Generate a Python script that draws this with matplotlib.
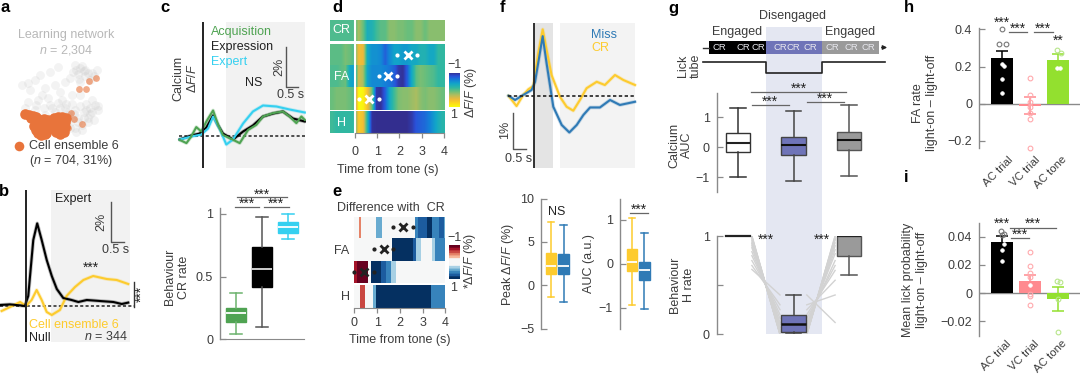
import matplotlib
matplotlib.use('Agg')
import matplotlib.pyplot as plt
from matplotlib.colors import LinearSegmentedColormap, ListedColormap

plt.rcParams['font.family'] = ['Liberation Sans', 'DejaVu Sans']
plt.rcParams['font.size'] = 9
plt.rcParams['mathtext.fontset'] = 'custom'
plt.rcParams['mathtext.rm'] = 'Liberation Sans'
plt.rcParams['mathtext.it'] = 'Liberation Sans:italic'
plt.rcParams['mathtext.bf'] = 'Liberation Sans:bold'

W, H = 1080, 376
TXT = '#3c3c3c'
AXC = '#8a8a8a'
ORANGE = '#e8743b'
GREEN = '#4fa352'
CYAN = '#35d0f0'
YELLOW = '#fdcb2e'
BLUE = '#2f7ab5'
PURPLE = '#6f74b8'
GREY = '#9a9a9a'
PINK = '#ff8a8f'
LIME = '#93e02f'

# a: embedding
grey_x = [75, 80, 85, 78, 85, 92, 97, 73, 90, 80, 70, 65, 58, 50, 40, 35, 28, 22, 30, 45, 55, 60, 48, 38, 28, 25, 35, 50, 62, 72,
          80, 95, 98, 90, 84, 75, 65, 55, 45, 88, 78, 70, 82, 75, 92, 68, 58, 42, 86, 72,
          76, 82, 88, 79, 84, 94, 98, 92, 86, 80, 74, 68, 72, 78, 84, 90, 60, 52, 66, 44, 36, 70, 76, 82, 88, 94]
grey_y = [65, 68, 70, 74, 76, 73, 70, 72, 80, 82, 78, 82, 67, 72, 75, 80, 83, 85, 90, 88, 85, 92, 98, 100, 102, 108, 110, 105, 100, 95,
          95, 105, 110, 108, 112, 110, 108, 112, 115, 118, 118, 122, 125, 128, 100, 115, 103, 95, 104, 104,
          70, 66, 73, 79, 71, 76, 106, 112, 110, 106, 114, 112, 118, 122, 118, 114, 108, 108, 104, 108, 105, 128, 132, 130, 122, 120]
orange_x = [25, 29, 33, 36, 31, 36, 40, 44, 48, 34, 38, 42, 46, 50, 36, 40, 44, 48, 38, 42, 46, 41, 45,
            54, 58, 62, 66, 53, 57, 61, 65, 53, 57, 61, 65, 56, 60, 64, 60]
orange_y = [114, 115, 116, 117, 118, 122, 120, 119, 120, 126, 125, 124, 124, 125, 130, 129, 129, 129, 133, 133, 133, 135, 134,
            118, 117, 117, 118, 123, 122, 122, 122, 128, 127, 127, 127, 132, 132, 132, 134]
orange_far_x = [89, 96, 86, 79, 71, 74, 68, 82]
orange_far_y = [81, 78, 89, 89, 113, 119, 128, 124]

# b: traces
b_null_t = [-0.93, -0.57, -0.21, -0.04, 0.08, 0.26, 0.4, 0.56, 0.74, 0.92, 1.1, 1.33, 1.63, 1.87, 2.17, 2.64, 3.12, 3.42, 3.65]
b_null_v = [0.05, 0.08, 0.03, 0.0, 0.5, 3.3, 4.13, 3.3, 2.3, 1.5, 0.85, 0.4, 0.3, 0.2, 0.3, 0.25, 0.2, 0.1, 0.17]
b_ens_t = [-0.87, -0.57, -0.21, 0.0, 0.2, 0.38, 0.56, 0.74, 0.92, 1.21, 1.45, 1.75, 2.05, 2.4, 2.88, 3.24, 3.65]
b_ens_v = [-0.25, -0.05, 0.2, 0.0, 0.3, 0.8, 0.3, -0.3, -0.45, -0.2, 0.5, 0.95, 1.3, 1.5, 1.35, 1.3, 1.1]

# c: traces
acq_t = [-0.97, -0.69, -0.49, -0.28, -0.07, 0.14, 0.42, 0.63, 0.83, 1.11, 1.53, 1.88, 2.22, 2.5, 2.92, 3.33, 3.61, 3.89, 4.1, 4.24]
acq_v = [-0.22, -0.38, -0.05, 0.42, 0.2, 0.7, 1.25, 0.53, 0.03, -0.13, -0.38, 0.28, 0.53, 0.95, 1.12, 1.2, 0.95, 0.62, 0.95, 0.78]
exprs_t = [-0.97, -0.49, -0.14, 0.14, 0.42, 0.63, 0.83, 1.25, 1.67, 2.08, 2.5, 2.92, 3.33, 3.75, 4.24]
exprs_v = [-0.2, 0.0, 0.1, 0.4, 1.0, 0.5, 0.1, -0.2, 0.2, 0.5, 0.95, 1.1, 1.2, 0.85, 0.7]
expert_t = [-0.97, -0.49, -0.07, 0.21, 0.42, 0.69, 0.97, 1.25, 1.67, 2.08, 2.5, 3.06, 3.61, 4.24]
expert_v = [-0.2, -0.05, 0.05, 0.35, 0.95, 0.35, -0.45, -0.2, 0.6, 1.2, 1.5, 1.45, 1.3, 1.15]

# c: CR rate boxes
cr_rate_ticks = [0, 0.5, 1]
cr_green = dict(whislo=0.04, q1=0.14, med=0.21, q3=0.25, whishi=0.37, fliers=[])
cr_black = dict(whislo=0.10, q1=0.42, med=0.56, q3=0.74, whishi=0.98, fliers=[])
cr_cyan = dict(whislo=0.80, q1=0.85, med=0.90, q3=0.94, whishi=1.0, fliers=[])

# d: heat rows, one value per 0.2 s from -1 to 4 s
d_t = [-1.1, 4.0]
d_cr = [0, 0, 0, 0, 0, 0, .3, .1, -.25, -.2, -.05, .05, .05, .2, .2, .15, .15, .1, .1, .2, .2, .1, .2, .2, .2, .2]
d_fa1 = [.05, .05, .05, .15, .1, 0, .6, .55, -.3, -.45, -.45, -.5, -.7, -.5, -.35, -.35, -.4, -.4, -.3, -.3, -.2, -.2, -.3, -.3, -.1, -.1]
d_fa2 = [0, 0, .05, .1, -.3, -.4, .45, .3, -.35, -.5, -.5, -.5, -.55, -.6, -.7, -.9, -.95, -.7, -.3, .05, .15, .1, .05, 0, -.1, -.1]
d_fa3 = [.1, .15, .15, .15, .1, 0, 1, .95, .6, .1, -.9, -.95, -.7, -.3, -.05, .15, .2, .2, .25, .3, .2, .15, .2, .2, .15, .1]
d_h = [-.05, -.1, -.1, -.1, -.1, -.1, .7, .6, -.2, -.95, -.97, -.97, -.97, -.97, -.97, -.97, -.97, -.97, -.9, -.75, -.7, -.65, -.55, -.4, -.25, -.15]
d_cross_t = [2.36, 1.5, 0.63]
d_dot_lo = [1.9, 1.09, 0.2]
d_dot_hi = [2.78, 1.9, 1.09]

# e: difference rows, bin edges and values
e_fa1_edges = [0, .2, .3, .5, .7, .95, 1.2, 1.55, 1.65, 2.5, 2.65, 2.8, 3.0, 3.2, 3.4, 3.7, 3.95, 4.0]
e_fa1_vals = [.02, -.45, 0, .2, 0, .45, .05, .2, .05, .2, .6, .7, .8, 1, .6, .7, .4]
e_fa2_edges = [0, .9, 1.15, 1.65, 2.56, 2.7, 2.95, 3.05, 3.4, 3.55, 3.7, 4.0]
e_fa2_vals = [0, .08, .15, 1, .7, .3, .1, .04, .3, .6, .65]
e_fa3_edges = [0, .12, .58, .75, 1.15, 1.4, 1.6, 1.85, 3.6, 3.9, 4.0]
e_fa3_vals = [-.7, -.9, 0, 1, .7, .6, .3, 0, .2, .1]
e_h_edges = [0, .15, .25, .45, .6, .8, .95, 3.35, 4.0]
e_h_vals = [-.15, 0, -.6, 0, .2, .5, 1, .65]
e_cross_t = [2.13, 1.28, 0.42]
e_dot_lo = [1.7, 0.86, 0.0]
e_dot_hi = [2.56, 1.7, 0.86]
time_ticks = [0, 1, 2, 3, 4]

# f: traces
miss_t = [-1.05, -.78, -.45, -.11, .03, .34, .5, .77, 1.11, 1.42, 1.72, 1.99, 2.26, 2.66, 3.07, 3.47, 3.81, 4.08]
miss_v = [0, -.12, .02, .16, .39, 1.67, .9, -.31, -.82, -1.03, -.82, -.54, -.33, -.33, -.12, -.26, -.21, -.17]
fcr_t = [-1.05, -.72, -.45, -.24, -.04, .16, .34, .5, .7, 1.04, 1.31, 1.58, 1.85, 2.12, 2.53, 2.86, 3.27, 3.61, 4.08]
fcr_v = [0, -.29, .02, .18, .27, 1.19, 1.86, 1.28, .58, -.03, -.31, -.42, -.12, .21, .39, .3, .58, .44, .3]

# f: boxes
peak_ticks = [-5, 0, 5, 10]
peak_y = dict(whislo=-1.4, q1=1.27, med=2.2, q3=3.7, whishi=7.35, fliers=[])
peak_b = dict(whislo=-1.9, q1=1.27, med=2.2, q3=3.6, whishi=7.0, fliers=[])
auc_ticks = [-1, 0, 1]
auc_y = dict(whislo=-.94, q1=-.17, med=.05, q3=.34, whishi=1.04, fliers=[])
auc_b = dict(whislo=-1.03, q1=-.37, med=-.14, q3=.05, whishi=.7, fliers=[])

# g: boxes
g_states = ['CR', 'CR', 'CR', 'CR', 'CR', 'CR', 'CR', 'CR', 'CR']
g_auc_ticks = [-1, 0, 1]
g_auc_en1 = dict(whislo=-1.01, q1=-.16, med=.12, q3=.46, whishi=1.29, fliers=[])
g_auc_dis = dict(whislo=-1.13, q1=-.27, med=.07, q3=.34, whishi=1.21, fliers=[])
g_auc_en2 = dict(whislo=-.96, q1=-.1, med=.22, q3=.51, whishi=1.4, fliers=[])
g_h_dis = dict(whislo=0, q1=.02, med=.1, q3=.2, whishi=.4, fliers=[])
g_h_en2 = dict(whislo=.6, q1=.8, med=1, q3=1, whishi=1, fliers=[])
h_before = [1, 1, .99, .98, .97, .95, .93, .92, .9, .88, .84, .8, .75, .7, .66]
h_during = [0, 0, 0, 0, .02, .03, .05, .07, .1, .12, .16, .2, .25, .3, .4]
h_after = [1, 1, .98, .97, .96, .93, .9, .86, .82, .75, .7, .65, .55, .4, .12]

# h, i: bars
bar_names = ['AC trial', 'VC trial', 'AC tone']
fa_vals = [0.245, -0.01, 0.235]
fa_err = [0.04, 0.045, 0.03]
fa_pts_x = [[0, -.12, .12, 0, .05, 0, 0], [0, 0, 0, 0, 0, 0, 0], [-.03, .08, -.05, .07]]
fa_pts_y = [[.4, .32, .32, .215, .205, .133, .055], [.14, .047, .01, -.02, -.05, -.083, -.237], [.29, .27, .19, .19]]
lick_vals = [0.0362, 0.0085, -0.004]
lick_err = [0.004, 0.004, 0.0085]
lick_pts_x = [[-.05, .06, 0, .05, 0, 0], [0, 0, 0, 0, 0, 0, 0, 0], [-.05, .05, 0, 0]]
lick_pts_y = [[.044, .042, .041, .0345, .0305, .0225], [.029, .019, .014, .011, .0057, -.001, -.002, -.0085], [.0085, .0075, -.004, -.0275]]


def make_ax(x0, x1, y0, y1, z=2):
    ax = fig.add_axes([x0 / W, 1 - y1 / H, (x1 - x0) / W, (y1 - y0) / H], zorder=z)
    ax.patch.set_alpha(0)
    for s in ['top', 'right']:
        ax.spines[s].set_visible(False)
    return ax


def set_px(ax, x0, x1, y0, y1, xref, xval, xscale, yref, yval, yscale):
    # limits so that xval falls on pixel xref and yval on pixel yref
    ax.set_xlim(xval + (x0 - xref) / xscale, xval + (x1 - xref) / xscale)
    ax.set_ylim(yval + (yref - y1) / yscale, yval + (yref - y0) / yscale)


def trace_ax(x0, x1, y0, y1, t0, v0, xscale, yscale):
    ax = make_ax(x0, x1, y0, y1)
    set_px(ax, x0, x1, y0, y1, t0, 0, xscale, v0, 0, yscale)
    ax.axis('off')
    return ax


def trace(ax, t, v, c, lw=1.5, z=3):
    ax.plot(t, v, color=c, lw=lw + 1.2, alpha=.25, zorder=z, solid_capstyle='round')
    ax.plot(t, v, color=c, lw=lw, zorder=z + .1, solid_joinstyle='round')


def style_y(ax, ticks, labels=None):
    ax.set_yticks(ticks)
    if labels is not None:
        ax.set_yticklabels(labels)
    ax.tick_params(axis='y', direction='in', length=4, width=.9, color=AXC, labelcolor=TXT, labelsize=9, pad=5)
    ax.spines['left'].set_color(AXC)
    ax.spines['left'].set_linewidth(1)
    ax.set_xticks([])


def box(ax, pos, st, width, face, edge=None, med='white', wc=None, mlw=1.3, lw=1.0):
    edge = edge or face
    wc = wc or edge
    ax.bxp([st], positions=[pos], widths=width, patch_artist=True, showfliers=False, capwidths=width * .62,
           boxprops=dict(facecolor=face, edgecolor=edge, linewidth=lw),
           medianprops=dict(color=med, linewidth=mlw, solid_capstyle='butt'),
           whiskerprops=dict(color=wc, linewidth=1.1), capprops=dict(color=wc, linewidth=1.1), manage_ticks=False)


def stars(x, y, s='***', **kw):
    # asterisks sit high in the line box, nudge them down
    dx, dy = (1.5, 0) if kw.get('rotation') else (0, 2)
    over.text(x + dx, y + dy, s, ha='center', va='center', color='#222222', fontsize=10, **kw)


def bracket(x0, x1, y, c='#666666'):
    over.plot([x0, x1], [y, y], color=c, lw=.9)


def t(x, y, s, **kw):
    kw.setdefault('ha', 'center')
    kw.setdefault('va', 'center')
    kw.setdefault('color', TXT)
    over.text(x, y, s, **kw)


def scale_bar(x, y0, y1, x1):
    over.plot([x, x, x1], [y0, y1, y1], color='#555555', lw=1)


fig = plt.figure(figsize=(W / 100, H / 100), dpi=100)

under = fig.add_axes([0, 0, 1, 1], zorder=0)
under.set_xlim(0, W)
under.set_ylim(H, 0)
under.axis('off')
over = fig.add_axes([0, 0, 1, 1], zorder=6)
over.set_xlim(0, W)
over.set_ylim(H, 0)
over.axis('off')
over.patch.set_alpha(0)

for letter, lx, ly in [('a', 5, 8), ('b', 4, 191), ('c', 165, 8), ('d', 337, 8), ('e', 337, 191), ('f', 503, 8),
                       ('g', 673, 8), ('h', 909, 8), ('i', 906, 178)]:
    t(lx, ly, letter, fontsize=12, fontweight='bold', color='black')

# panel a
ax = make_ax(10, 110, 55, 145)
ax.set_xlim(10, 110)
ax.set_ylim(145, 55)
ax.axis('off')
ax.scatter(grey_x, grey_y, s=40, color='#c4c4c4', alpha=.2, linewidths=0)
ax.scatter(orange_far_x, orange_far_y, s=24, color=ORANGE, alpha=.6, linewidths=0)
ax.scatter(orange_x, orange_y, s=58, color=ORANGE, linewidths=0)
t(66, 35, 'Learning network', color='#b8b8b8')
t(66, 50, '$n$ = 2,304', color='#b8b8b8')
over.scatter([19], [146], s=48, color=ORANGE, linewidths=0)
t(29, 146, 'Cell ensemble 6', ha='left')
t(29, 161, '($n$ = 704, 31%)', ha='left')

# panel b trace
ax = trace_ax(0, 135, 190, 342, 26, 306, 28, 20)
ax.axvspan(.89, 3.71, color='#f2f2f2', lw=0, zorder=1)
ax.axhline(0, color='#222222', lw=1.1, ls=(0, (2, 1.5)), zorder=2)
ax.axvline(0, color='#222222', lw=1.4, zorder=5)
trace(ax, b_ens_t, b_ens_v, YELLOW)
trace(ax, b_null_t, b_null_v, 'black')
t(55, 199, 'Expert', ha='left', color='#222222')
scale_bar(110.5, 202, 242, 124)
t(101, 222, '2%', rotation=90)
t(116, 250, '0.5 s')
stars(91, 266)
over.plot([133.5, 133.5], [282, 306.5], color='#333333', lw=1)
stars(140, 294, rotation=90)
t(29, 325, 'Cell ensemble 6', ha='left', color=YELLOW)
t(29, 338, 'Null', ha='left', color='#222222')
t(128, 336, '$n$ = 344', ha='right')

# panel c trace
ax = trace_ax(175, 306, 22, 168, 203, 135.5, 24, 20)
ax.axvspan(.97, 4.24, color='#f2f2f2', lw=0, zorder=1)
ax.axhline(0, color='#222222', lw=1.1, ls=(0, (2, 1.5)), xmin=.03, xmax=.99, zorder=2)
ax.axvline(0, color='#222222', lw=1.4, zorder=5)
trace(ax, exprs_t, exprs_v, 'black')
trace(ax, expert_t, expert_v, CYAN)
trace(ax, acq_t, acq_v, GREEN)
t(211, 32, 'Acquisition', ha='left', color=GREEN)
t(211, 47, 'Expression', ha='left', color='#222222')
t(211, 62, 'Expert', ha='left', color=CYAN)
t(254, 83, 'NS', color='#222222')
scale_bar(285.7, 47, 87, 298)
t(279, 67, '2%', rotation=90)
t(291, 95, '0.5 s')
t(186, 78, 'Calcium\nΔ$F/F$', rotation=90, linespacing=1.15)

# panel c boxes
ax = make_ax(220, 304, 208, 339)
set_px(ax, 220, 304, 208, 339, 236, 0, 26, 339, 0, 125)
style_y(ax, cr_rate_ticks, ['0', '0.5', '1'])
ax.spines['bottom'].set_color(AXC)
box(ax, 0, cr_green, .8, GREEN, wc='#6cb36e')
box(ax, 1, cr_black, .8, 'black', med='#dddddd', wc='#555555')
box(ax, 2, cr_cyan, .8, CYAN, wc=CYAN)
t(177, 277, 'Behaviour\nCR rate', rotation=90, linespacing=1.15)
bracket(235, 259, 206.7)
bracket(264, 289, 206.7)
bracket(237, 287, 197)
stars(247, 202)
stars(276, 202)
stars(262, 192.5)

# panel d heat
parula = LinearSegmentedColormap.from_list('parula', ['#352a87', '#2a50d8', '#1480d8', '#12a6c8', '#2db7a4', '#6dbf7a',
                                                      '#b5bd5c', '#eeb93a', '#fdd81f', '#f9fb0e'])
ax = make_ax(330, 445, 20, 133)
d_rows = [d_cr, d_fa1, d_fa2, d_fa3, d_h]
d_bounds = [(20, 41), (44, 65.5), (65.5, 87), (87, 110), (112, 133)]
for row, (top, bot) in zip(d_rows, d_bounds):
    ax.imshow([row], extent=[d_t[0], d_t[1], bot, top], cmap=parula, vmin=-1, vmax=1, aspect='auto', interpolation='bilinear')
ax.set_xlim(-1.1, 4.03)
ax.set_ylim(133, 20)
ax.axvline(0, color='white', lw=1.5)
ax.plot(d_cross_t, [54.5, 76, 98.5], ls='', marker='x', ms=6, mew=2, color='white')
ax.plot(d_dot_lo + d_dot_hi, [54.5, 76, 98.5] * 2, ls='', marker='o', ms=2, color='white')
ax.spines['left'].set_visible(False)
ax.spines['bottom'].set_bounds(0, 4)
ax.spines['bottom'].set_color(AXC)
ax.set_yticks([])
ax.set_xticks(time_ticks)
ax.tick_params(axis='x', direction='out', length=3.5, width=.9, color=AXC, labelcolor=TXT, labelsize=9, pad=6)
t(341, 30, 'CR', color='white')
t(342, 77, 'FA', color='white')
t(341, 123, 'H', color='white')
t(388, 170, 'Time from tone (s)')
cax = make_ax(449, 460, 73, 107)
cax.imshow([[v / 50] for v in range(-50, 51)], cmap=parula, vmin=-1, vmax=1, aspect='auto')
cax.axis('off')
t(454, 65, '−1')
t(454, 115, '1')
t(471, 92, 'Δ$F/F$ (%)', rotation=90)

# panel e heat
rdbu = ListedColormap([plt.get_cmap('RdBu')(i / 12) for i in [0, 1, 2, 3, 4, 6, 6, 6, 8, 9, 10, 11, 12]])
ax = make_ax(354, 446, 217, 308)
ax.set_ylim(308, 217)
e_rows = [(e_fa1_edges, e_fa1_vals, 217, 238), (e_fa2_edges, e_fa2_vals, 238, 261), (e_fa3_edges, e_fa3_vals, 261, 283),
          (e_h_edges, e_h_vals, 285, 308)]
for edges, vals, top, bot in e_rows:
    ax.pcolormesh(edges, [top, bot], [vals], cmap=rdbu, vmin=-1, vmax=1)
ax.set_xlim(-.02, 4.03)
ax.plot(e_cross_t, [227.5, 249.5, 272], ls='', marker='x', ms=6, mew=2, color='#222222', clip_on=False)
ax.plot(e_dot_lo + e_dot_hi, [227.5, 249.5, 272] * 2, ls='', marker='o', ms=2, color='#222222', clip_on=False)
ax.spines['left'].set_visible(False)
ax.spines['bottom'].set_bounds(0, 4)
ax.spines['bottom'].set_color(AXC)
ax.set_yticks([])
ax.set_xticks(time_ticks)
ax.tick_params(axis='x', direction='out', length=3.5, width=.9, color=AXC, labelcolor=TXT, labelsize=9, pad=3)
t(391, 208, 'Difference with  CR')
t(342, 251, 'FA')
t(345, 297, 'H')
t(400, 340, 'Time from tone (s)')
cax = make_ax(449, 460, 245, 279)
cax.imshow([[v / 50] for v in range(-50, 51)], cmap=rdbu, vmin=-1, vmax=1, aspect='auto')
cax.axis('off')
t(454, 238, '−1')
t(454, 288, '1')
t(470, 261, '*Δ$F/F$ (%)', rotation=90)

# panel f trace
ax = trace_ax(505, 637, 23, 168, 534.3, 95.7, 24.67, 35.67)
ax.axvspan(0, .77, color='#e4e4e4', lw=0, zorder=1)
ax.axvspan(1.04, 4.1, color='#f3f3f3', lw=0, zorder=1)
ax.axvline(0, color='#222222', lw=1.3, zorder=5)
ax.plot([-1.05, 4.1], [0, 0], color='#222222', lw=1.2, ls=(0, (2, 1.5)), zorder=6)
trace(ax, fcr_t, fcr_v, YELLOW)
trace(ax, miss_t, miss_v, BLUE)
t(591, 35, 'Miss', ha='left', color=BLUE)
t(591, 48, 'CR', ha='left', color=YELLOW)
scale_bar(513.3, 113, 149, 526)
t(505, 130, '1%', rotation=90)
t(505, 159, '0.5 s', ha='left')

# panel f boxes
ax = make_ax(541, 575, 198.7, 329)
set_px(ax, 541, 575, 198.7, 329, 551, 0, 12.7, 285.3, 0, 8.66)
style_y(ax, peak_ticks)
ax.spines['bottom'].set_visible(False)
box(ax, 0, peak_y, .82, YELLOW)
box(ax, 1, peak_b, .82, BLUE)
t(508, 264, 'Peak Δ$F/F$ (%)', rotation=90)
t(557, 212, 'NS', color='#222222')

ax = make_ax(620, 656, 198.7, 329)
set_px(ax, 620, 656, 198.7, 329, 632, 0, 12.3, 264, 0, 44)
style_y(ax, auc_ticks)
ax.spines['bottom'].set_visible(False)
box(ax, 0, auc_y, .85, YELLOW)
box(ax, 1, auc_b, .85, BLUE)
t(589, 264, 'AUC (a.u.)', rotation=90)
bracket(630, 648, 213)
stars(639, 208)

# panel g schematic
under.fill_between([766, 822], 27, 334, color='#e4e7f2', lw=0)
t(792, 16, 'Disengaged')
t(737, 32, 'Engaged')
t(850, 32, 'Engaged')
over.plot([703, 709], [47.5, 47.5], color='#333333', lw=1)
over.fill_between([709, 766], 41, 54, color='black', lw=0)
over.fill_between([766, 822], 41, 54, color=PURPLE, lw=0)
over.fill_between([822, 879], 41, 54, color=GREY, lw=0)
for gx, label in zip([719, 743, 758, 780, 793, 810, 832, 851, 868], g_states):
    t(gx, 47.5, label, color='#e8e8ee', fontsize=6.8)
over.annotate('', xy=(890, 47.5), xytext=(879, 47.5), arrowprops=dict(arrowstyle='-|>', color='#222222', lw=1, mutation_scale=6))
over.plot([703, 766, 766, 822, 822, 885], [62, 62, 72.7, 72.7, 62, 62], color='#222222', lw=1.2)
t(689, 66, 'Lick\ntube', rotation=90, linespacing=1.1)

# panel g calcium AUC
ax = make_ax(716.7, 880, 93, 191.7)
set_px(ax, 716.7, 880, 93, 191.7, 738, 0, 55.5, 147, 0, 30)
style_y(ax, g_auc_ticks)
ax.spines['bottom'].set_visible(False)
box(ax, 0, g_auc_en1, .44, 'white', edge='#333333', med='#222222', mlw=1.5)
box(ax, 1, g_auc_dis, .44, PURPLE, edge='#444444', med='#111111', mlw=1.5)
box(ax, 2, g_auc_en2, .44, GREY, edge='#555555', med='#111111', mlw=1.5)
t(680.7, 145, 'Calcium\nAUC', rotation=90, linespacing=1.15)
bracket(751, 846, 92)
bracket(752, 789, 105)
bracket(807, 844, 102)
stars(799, 87)
stars(770, 100)
stars(825, 96.5)

# panel g H rate
ax = make_ax(716.7, 880, 236, 334.3)
set_px(ax, 716.7, 880, 236, 334.3, 738, 0, 55.5, 334.3, 0, 98.3)
style_y(ax, [0, .5, 1], ['0', '', '1'])
ax.spines['bottom'].set_visible(False)
for b, d, a in zip(h_before, h_during, h_after):
    ax.plot([.25, .757], [b, d], color='#d2d2d2', lw=1, zorder=1)
    ax.plot([1.24, 1.75], [d, a], color='#d2d2d2', lw=1, zorder=1)
ax.plot([-.22, .22], [1, 1], color='#222222', lw=1.6, clip_on=False)
box(ax, 1, g_h_dis, .44, PURPLE, edge='#444444', med='#111111', mlw=1.8)
box(ax, 2, g_h_en2, .44, GREY, edge='#555555', med='#222222', mlw=1.5)
t(682, 285, 'Behaviour\nH rate', rotation=90, linespacing=1.15)
stars(765.7, 238)
stars(822, 238)


def dots(ax, pts_x, pts_y, vals, cols):
    for i in range(3):
        for dx, y in zip(pts_x[i], pts_y[i]):
            inside = (y < vals[i] and y > 0) or (y > vals[i] and y < 0)
            if inside:
                ax.plot(i + dx, y, 'o', ms=2.6, mfc='white', mec='white', mew=.5, zorder=5)
            else:
                ax.plot(i + dx, y, 'o', ms=3.4, mfc='none', mec=cols[i], mew=.8, zorder=5, clip_on=False)


dot_cols = ['#777777', '#ffa9ad', '#b7e68a']
err_cols = ['black', PINK, LIME]


def bars(ax, vals, err):
    ax.bar(range(3), vals, width=.79, color=['black', PINK, LIME], zorder=3)
    for i in range(3):
        ax.errorbar(i, vals[i], yerr=err[i], color=err_cols[i], capsize=4, lw=1.1, capthick=1.1, zorder=4)
    ax.axhline(0, color=AXC, lw=1, zorder=2)
    ax.spines['bottom'].set_visible(False)


def bar_names_on(xs, y):
    for bx, name in zip(xs, bar_names):
        t(bx, y, name, rotation=45, ha='right', va='center', rotation_mode='anchor', fontsize=8.2)


# panel h
ax = make_ax(979, 1080, 28, 148)
set_px(ax, 979, 1080, 28, 148, 1002.3, 0, 28, 103.7, 0, 186)
style_y(ax, [-.2, 0, .2, .4], ['−0.2', '0', '0.2', '0.4'])
bars(ax, fa_vals, fa_err)
dots(ax, fa_pts_x, fa_pts_y, fa_vals, dot_cols)
bar_names_on([1011, 1038, 1065], 158)
t(925, 103, 'FA rate\nlight-on – light-off', rotation=90, linespacing=1.2)
stars(1002, 21)
bracket(1009, 1027, 32)
bracket(1034, 1053, 32)
stars(1018, 27)
stars(1043, 27)
stars(1058, 39, '**')

# panel i
ax = make_ax(979, 1080, 222.7, 335.7)
set_px(ax, 979, 1080, 222.7, 335.7, 1002.3, 0, 28, 293, 0, 1410)
style_y(ax, [-.02, 0, .02, .04], ['−0.02', '0', '0.02', '0.04'])
bars(ax, lick_vals, lick_err)
dots(ax, lick_pts_x, lick_pts_y, lick_vals, dot_cols)
bar_names_on([1009, 1037, 1065], 342)
t(915, 280, 'Mean lick probability\nlight-on – light-off', rotation=90, linespacing=1.2)
stars(1002, 222)
stars(1033, 222)
stars(1020, 233)
bracket(1010, 1056, 228)
bracket(1011, 1029, 238)

fig.savefig('out.png', dpi=100)
